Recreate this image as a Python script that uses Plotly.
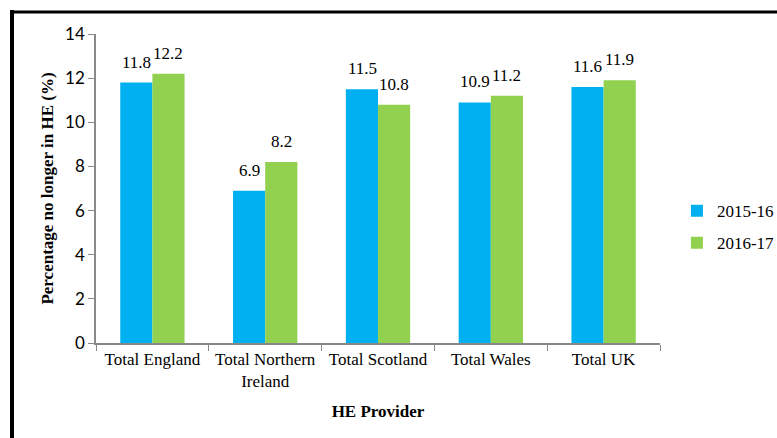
import plotly.graph_objects as go

categories = ["Total England", "Total Northern<br>Ireland", "Total Scotland", "Total Wales", "Total UK"]
series_names = ["2015-16", "2016-17"]
values_2015 = [11.8, 6.9, 11.5, 10.9, 11.6]
values_2016 = [12.2, 8.2, 10.8, 11.2, 11.9]
colors = ["#00B0F0", "#92D050"]

serif = "'Liberation Serif', 'Times New Roman', serif"

L, R, T, B = 96, 117, 34, 95
W, H = 777, 438
pw, ph = W - L - R, H - T - B
bar_px = 32  # approximate bar width in pixels

def px_x(x):
    return (x - L) / pw

def px_y(y):
    return (H - B - y) / ph

fig = go.Figure()
annotations = []
for i, (name, vals, col) in enumerate(zip(series_names, [values_2015, values_2016], colors)):
    fig.add_trace(go.Bar(
        x=categories, y=vals, name=name, legendgroup=name,
        marker=dict(color=col, line=dict(width=0)),
    ))
    for c, v in zip(categories, vals):
        annotations.append(dict(
            x=c, y=v, xref="x", yref="y", text=f"{v:.1f}", showarrow=False,
            xanchor="center", yanchor="bottom", xshift=(i - 0.5) * bar_px, yshift=9,
            font=dict(family=serif, size=17, color="#000"),
        ))

fig.update_layout(
    width=W, height=H,
    margin=dict(l=L, r=R, t=T, b=B, pad=0, autoexpand=False),
    paper_bgcolor="white", plot_bgcolor="white",
    barmode="group", bargap=0.43, bargroupgap=0,
    showlegend=True,
    legend=dict(x=1.03, xanchor="left", y=0.375, yanchor="middle", traceorder="grouped",
                font=dict(family=serif, size=17, color="#000"),
                itemwidth=30, tracegroupgap=7, bgcolor="rgba(0,0,0,0)"),
    xaxis=dict(
        showline=True, linecolor="#888888", linewidth=1.5,
        ticks="outside", tickson="boundaries", ticklen=6, tickcolor="#888888",
        tickfont=dict(family=serif, size=17, color="#000"),
        title=dict(text="<b>HE Provider</b>", font=dict(family=serif, size=17, color="#000"), standoff=15),
    ),
    yaxis=dict(
        range=[0, 14], dtick=2, showgrid=False, zeroline=False,
        showline=True, linecolor="#888888", linewidth=1.5,
        ticks="outside", ticklen=6, tickcolor="#888888",
        tickfont=dict(family="Lato, Carlito, sans-serif", size=17, color="#000"),
        title=dict(text="<b>Percentage no longer in HE (%)</b>", font=dict(family=serif, size=17, color="#000"), standoff=7),
    ),
    annotations=annotations,
    shapes=[
        dict(type="line", xref="paper", yref="paper", x0=px_x(12), x1=px_x(12), y0=px_y(10), y1=px_y(445),
             line=dict(color="#000", width=4)),
        dict(type="line", xref="paper", yref="paper", x0=px_x(10), x1=px_x(790), y0=px_y(12), y1=px_y(12),
             line=dict(color="#000", width=3)),
    ],
)

fig.write_html("out.html", config={"displayModeBar": False},
               post_script="document.body.style.margin='0';document.body.style.overflow='hidden';")
